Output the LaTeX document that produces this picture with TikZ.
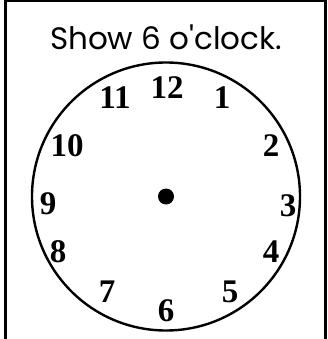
\documentclass[tikz,border=0pt]{standalone}
\usepackage{fontspec}
\setmainfont{Liberation Serif}
\newfontfamily\titlefont{Poppins}
\usetikzlibrary{positioning}

\begin{document}
\begin{tikzpicture}[x=1pt, y=-1pt,
        frame/.style={line width=3pt},
        face/.style={circle, draw, line width=2.4pt, minimum size=268pt, inner sep=0pt},
        hub/.style={circle, fill, minimum size=16pt, inner sep=0pt},
        hour/.style={font=\fontsize{33}{33}\selectfont\bfseries, inner sep=0pt},
        heading/.style={font=\titlefont\fontsize{31}{31}\selectfont, inner sep=0pt}]
      \useasboundingbox (0,0) rectangle (328,339);
      % open frame, cut off at the bottom
      \draw[frame] (5.5,339) -- (5.5,1) -- (325.5,1) -- (325.5,339);
      \node[heading, anchor=base] (title) at (166,50) {Show 6 o'clock.};
      \node[face] (dial) at (166,196.5) {};
      \node[hub] (hub) at (dial.center) {};
      % hour numbers
      \foreach \h/\px/\py in {12/167/88, 1/222/98, 2/271/146, 3/288/206,
          4/271/252, 5/230/292, 6/166/311, 7/107/292, 8/58/252,
          9/48/204, 10/67/146, 11/115/98}
        \node[hour] (n\h) at (\px,\py) {\h};
    \end{tikzpicture}
\end{document}
